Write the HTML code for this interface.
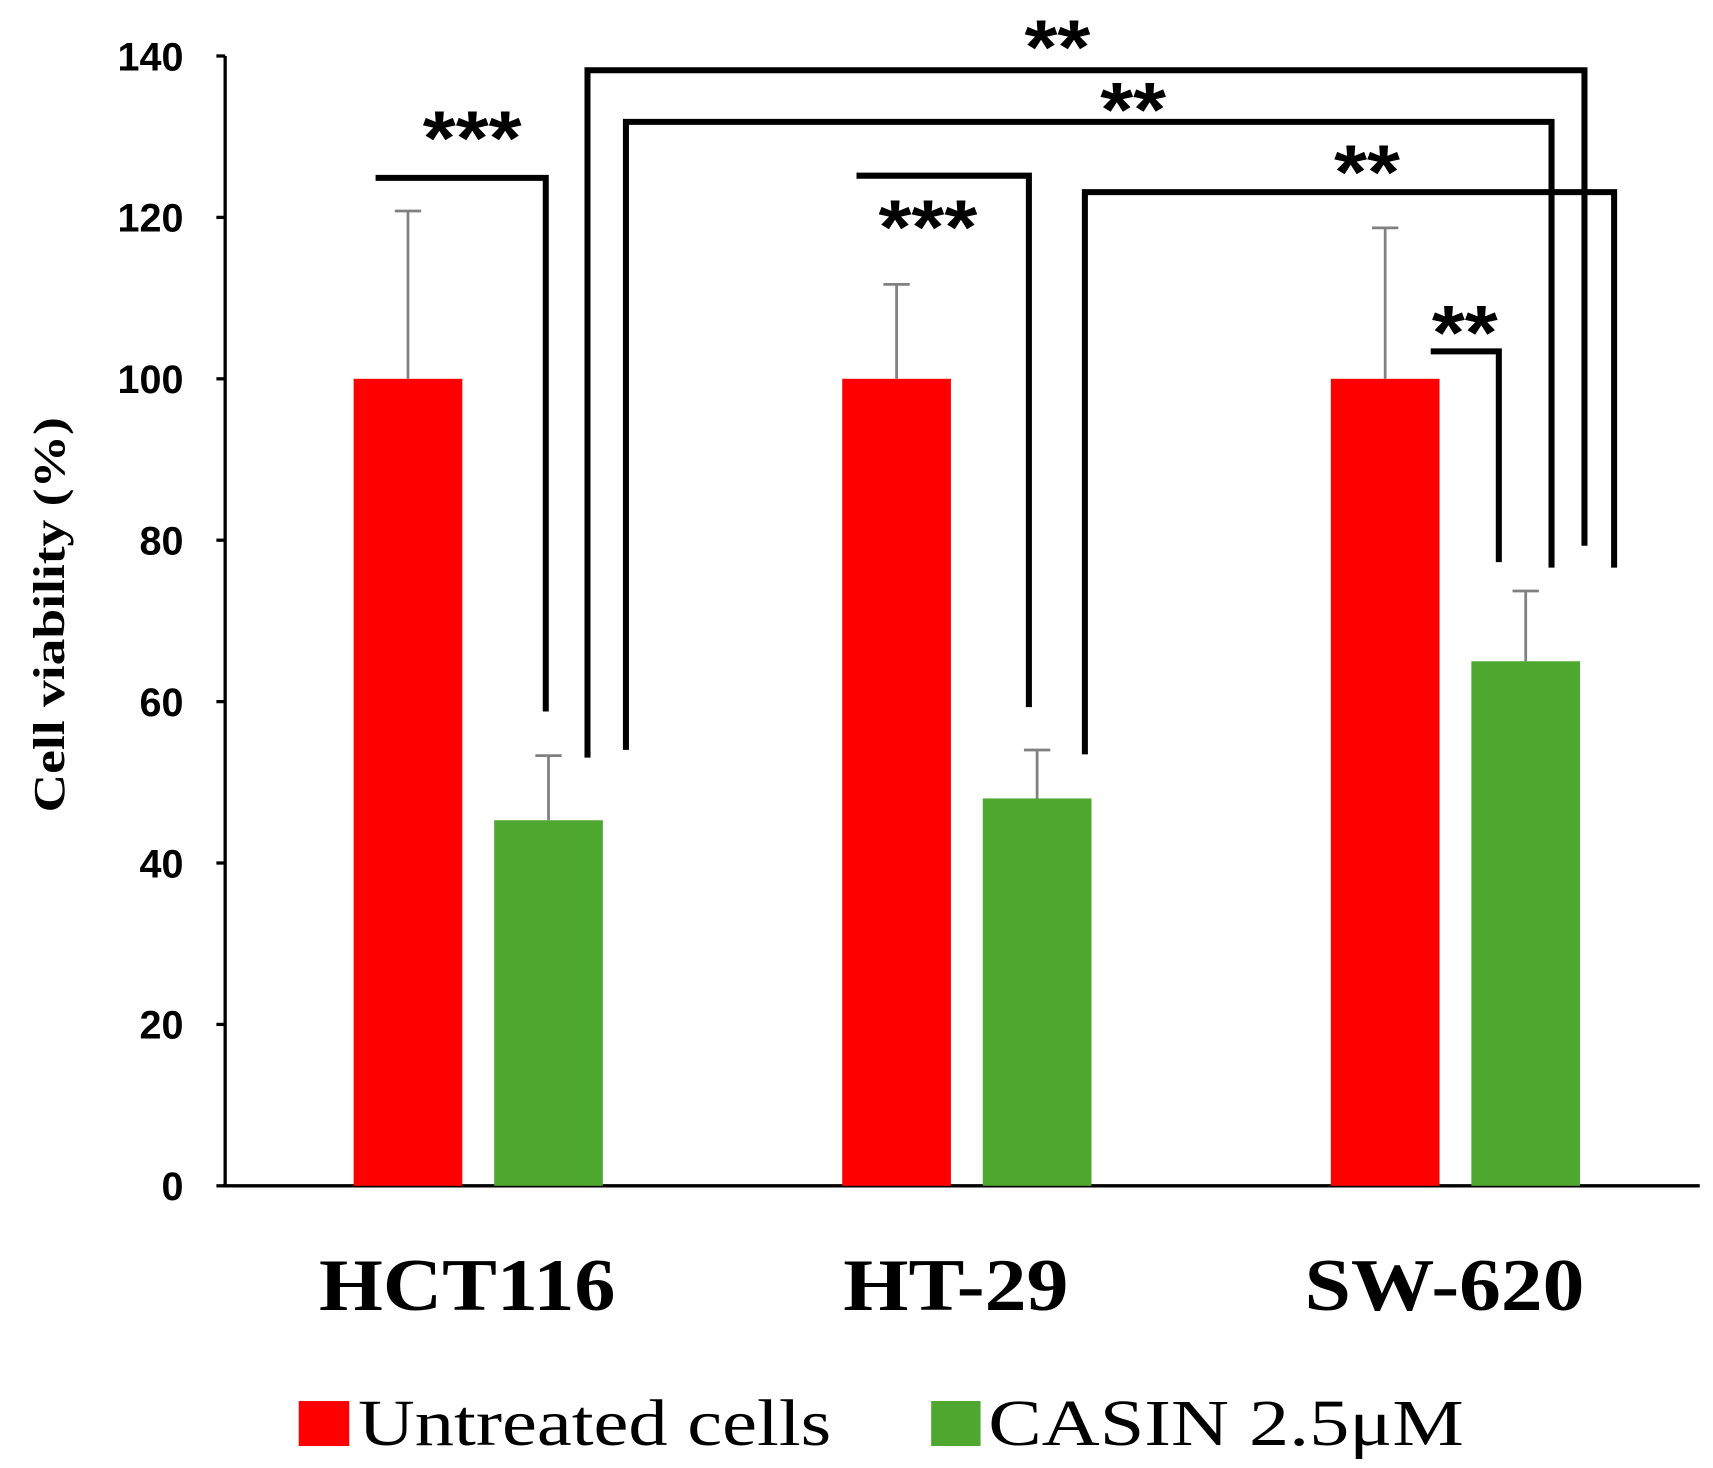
<!DOCTYPE html>
<html><head><meta charset="utf-8"><style>
html,body{margin:0;padding:0;background:#fff;}
svg{display:block;}
</style></head><body>
<svg id="chart" width="1713" height="1468" viewBox="0 0 1560 1337" xmlns="http://www.w3.org/2000/svg">
<g id="axes"></g><g id="bars"></g><g id="brackets"></g>
<text transform="translate(58,560) rotate(-90)" text-anchor="middle" font-family="Liberation Serif, serif" font-weight="bold" font-size="40" textLength="360" lengthAdjust="spacingAndGlyphs">Cell viability  (%)</text>
<g>
<rect x="272" y="1276" width="46" height="41" fill="#ff0000"/>
<text x="326" y="1316" font-family="Liberation Serif, serif" font-size="60" textLength="431" lengthAdjust="spacingAndGlyphs">Untreated cells</text>
<rect x="848" y="1276" width="45" height="41" fill="#4ea72e"/>
<text x="900" y="1316" font-family="Liberation Serif, serif" font-size="60" textLength="433" lengthAdjust="spacingAndGlyphs">CASIN 2.5μM</text>
</g>
</svg>
<script>
const categories = ["HCT116", "HT-29", "SW-620"];
const untreated = [100, 100, 100];
const untreatedErr = [20.8, 11.7, 18.7];
const casin = [45.3, 48, 65];
const casinErr = [8, 6, 8.7];
const yTicks = [0, 20, 40, 60, 80, 100, 120, 140];

const NS = "http://www.w3.org/2000/svg";
const y0 = 1080, yTop = 51, yMax = 140;
function yScale(v){ return y0 - v / yMax * (y0 - yTop); }
function groupCenter(i){ return 435.5 + i * 445; }
const barW = 99, gap = 29;
function mk(tag, attrs, parent){ const e = document.createElementNS(NS, tag); for (const k in attrs) e.setAttribute(k, attrs[k]); parent.appendChild(e); return e; }

const axes = document.getElementById('axes');
let l = mk('line', {x1:205, y1:yTop, x2:205, y2:y0, stroke:'#000', 'stroke-width':3}, axes);


l = mk('line', {x1:203, y1:y0, x2:1548, y2:y0, stroke:'#000', 'stroke-width':3}, axes);


yTicks.forEach(t => {
  const tk = mk('line', {x1:197, y1:yScale(t), x2:205, y2:yScale(t), stroke:'#000', 'stroke-width':3}, axes);
  
  
  const tx = mk('text', {x:167, y:yScale(t)+13, 'text-anchor':'end', 'font-family':'Liberation Sans, sans-serif', 'font-weight':'bold', 'font-size':36}, axes);
  tx.textContent = t;
  
  
});
const labelW = [270, 205, 255];
categories.forEach((c, i) => {
  const tx = mk('text', {x:groupCenter(i) - 10, y:1193, 'text-anchor':'middle', 'font-family':'Liberation Serif, serif', 'font-weight':'bold', 'font-size':68, textLength:labelW[i], lengthAdjust:'spacingAndGlyphs'}, axes);
  tx.textContent = c;
  
  
});

const bars = document.getElementById('bars');
function drawBar(x, v, err, color, name){
  const r = mk('rect', {x:x, y:yScale(v), width:barW, height:y0 - yScale(v), fill:color}, bars);
  
  
  const cx = x + barW/2;
  const e = mk('path', {d:`M${cx},${yScale(v)} V${yScale(v+err)} M${cx-12},${yScale(v+err)} H${cx+12}`, stroke:'#808080', 'stroke-width':2.5, fill:'none'}, bars);
  
  
}
categories.forEach((c, i) => {
  const gc = groupCenter(i);
  drawBar(gc - gap/2 - barW, untreated[i], untreatedErr[i], '#ff0000', 'bar-untreated-' + c.toLowerCase());
  drawBar(gc + gap/2, casin[i], casinErr[i], '#4ea72e', 'bar-casin-' + c.toLowerCase());
});

const br = document.getElementById('brackets');
const brs = [
  {d:'M342,162 H497 V648', s:'***', sx:430, sy:116, w:90},
  {d:'M780,160 H937 V644', s:'***', sx:845, sy:197, w:90},
  {d:'M535,690 V64 H1443 V497', s:'**', sx:963, sy:33, w:60},
  {d:'M570,683 V111 H1413 V517', s:'**', sx:1032, sy:90, w:60},
  {d:'M988,687 V175 H1470 V517', s:'**', sx:1245, sy:147, w:60},
  {d:'M1303,320 H1365 V512', s:'**', sx:1334, sy:293, w:60}
];
brs.forEach(b => {
  const p = mk('path', {d:b.d, stroke:'#000', 'stroke-width':5.5, fill:'none'}, br);
  
  
  const t = mk('text', {x:b.sx, y:b.sy + 34, 'text-anchor':'middle', 'font-family':'Liberation Sans, sans-serif', 'font-weight':'bold', 'font-size':70, textLength:b.w, lengthAdjust:'spacingAndGlyphs'}, br);
  t.textContent = b.s;
  
  
});
</script>
</body></html>
